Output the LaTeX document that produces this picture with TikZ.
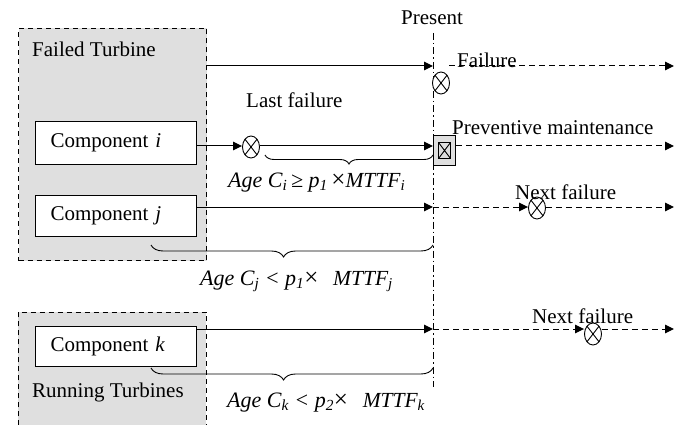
\documentclass[tikz,border=0pt]{standalone}
\usepackage{fontspec}
\setmainfont{Liberation Serif}
\usetikzlibrary{arrows.meta,shapes.geometric,decorations.pathreplacing}
\newcommand{\agepart}[1]{{\itshape\fontsize{22}{25}\selectfont #1}}
\newcommand{\timespart}{{\fontsize{25}{25}\selectfont ×}}
\newcommand{\mttfpart}[1]{{\itshape\fontsize{21.5}{25}\selectfont MTTF\textsubscript{#1}}}
\begin{document}
\begin{tikzpicture}[x=1pt,y=-1pt,
  font=\fontsize{21}{25}\selectfont,
  grp/.style={draw, dash pattern=on 5pt off 4pt, fill=gray!25, line width=1pt, anchor=north west, inner sep=0pt},
  grpfill/.style={fill=gray!25, anchor=north west, inner sep=0pt},
  comp/.style={draw, fill=white, line width=1pt, anchor=north west, align=left, text width=131pt, inner xsep=15pt, inner ysep=0pt},
  lbl/.style={inner sep=0pt},
  arr/.style={line width=1pt, -{Triangle[length=9pt,width=8.5pt]}},
  dsh/.style={arr, dash pattern=on 6pt off 4pt},
  presentline/.style={line width=0.9pt, dash pattern=on 7pt off 3pt on 1.5pt off 3pt},
  xmark/.style={ellipse, draw, fill=white, line width=0.9pt, minimum width=17pt, minimum height=22pt, inner sep=0pt,
    path picture={\draw[line width=0.9pt] (path picture bounding box.north east) -- (path picture bounding box.south west)
      (path picture bounding box.north west) -- (path picture bounding box.south east);}},
  pmbox/.style={draw, fill=gray!25, line width=1pt, minimum width=22pt, minimum height=30pt, anchor=north west, inner sep=0pt},
  xbox/.style={draw, line width=0.9pt, minimum width=12pt, minimum height=16pt, inner sep=0pt,
    path picture={\draw[line width=0.9pt] (path picture bounding box.north east) -- (path picture bounding box.south west)
      (path picture bounding box.north west) -- (path picture bounding box.south east);}},
  brc/.style={decorate, decoration={brace, mirror, amplitude=9pt}, line width=0.9pt}
]
\useasboundingbox (0,0) rectangle (683,425);

% groups
\node[grp, minimum width=188pt, minimum height=232pt] (ft) at (18,28) {};
\node[grpfill, minimum width=188pt, minimum height=113pt] (rt) at (18,312) {};
\draw[line width=1pt, dash pattern=on 5pt off 4pt] (rt.south west) -- (rt.north west) -- (rt.north east) -- (rt.south east);

\node[lbl, anchor=base west] (tft) at (32,57) {Failed Turbine};
\node[lbl, anchor=base west] (trt) at (32,397) {Running Turbines};

% components
\node[comp, minimum height=43pt] (ci) at (35,121) {Component \textit{i}};
\node[comp, minimum height=41pt] (cj) at (35,195) {Component \textit{j}};
\node[comp, minimum height=40pt] (ck) at (35,326) {Component \textit{k}};

% present line
\coordinate (ptop) at (433,33);
\coordinate (pbot) at (433,387);
\draw[presentline] (ptop) -- (pbot);
\node[lbl, anchor=base] (tpr) at (432,25) {Present};

% line coordinates
\coordinate (pf) at (433,66);
\coordinate (fs) at (449,66);
\coordinate (ef) at (674,66);
\coordinate (pi) at (433,146);
\coordinate (ei) at (674,146);
\coordinate (pj) at (433,207);
\coordinate (ej) at (674,207);
\coordinate (pk) at (433,329);
\coordinate (ek) at (674,329);

% marks
\node[xmark] (xf) at (441,83) {};
\node[xmark] (xi) at (251,147) {};
\node[xmark] (xj) at (537,208) {};
\node[xmark] (xk) at (593,334) {};
\node[pmbox] (pm) at (433,135) {};
\node[xbox] (pmx) at (pm.center) {};

% failed turbine
\draw[arr] (ft.east |- pf) -- (pf);
\draw[dsh] (fs) -- (ef);
\node[lbl, anchor=base west] (tfa) at (457,68) {Failure};

% component i
\draw[arr] (ci.east |- pi) -- (xi.west |- pi);
\draw[arr] (xi.east |- pi) -- (pi);
\draw[dsh] (pm.east |- pi) -- (ei);
\node[lbl, anchor=base west] (tlf) at (246,108) {Last failure};
\node[lbl, anchor=base west] (tpm) at (452,135) {Preventive maintenance};

% component j
\draw[arr] (cj.east |- pj) -- (pj);
\draw[dsh] (pj) -- (xj.west |- pj);
\draw[dsh] (xj.east |- pj) -- (ej);
\node[lbl, anchor=base west] (tnj) at (515,200) {Next failure};

% component k
\draw[arr] (ck.east |- pk) -- (pk);
\draw[dsh] (pk) -- (xk.west |- pk);
\draw[dsh] (xk.east |- pk) -- (ek);
\node[lbl, anchor=base west] (tnk) at (532,323) {Next failure};

% braces
\coordinate (bi1) at (265,155);
\coordinate (bi2) at (433,155);
\coordinate (bj1) at (151,245);
\coordinate (bj2) at (433,245);
\coordinate (bk1) at (151,368);
\coordinate (bk2) at (433,368);
\draw[brc] (bi1) -- (bi2);
\draw[brc, decoration={amplitude=12pt, aspect=0.47}] (bj1) -- (bj2);
\draw[brc, decoration={amplitude=12pt, aspect=0.47}] (bk1) -- (bk2);

\node[lbl, anchor=base west] (ai) at (228,187) {\agepart{Age C\textsubscript{i}\,≥ p\textsubscript{1}\,}\timespart\mttfpart{i}};
\node[lbl, anchor=base west] (aj) at (200,285) {\agepart{Age C\textsubscript{j} < p\textsubscript{1}}\timespart\hspace{0.7em}\mttfpart{j}};
\node[lbl, anchor=base west] (ak) at (227,407) {\agepart{Age C\textsubscript{k} < p\textsubscript{2}}\timespart\hspace{0.7em}\mttfpart{k}};
\end{tikzpicture}
\end{document}
